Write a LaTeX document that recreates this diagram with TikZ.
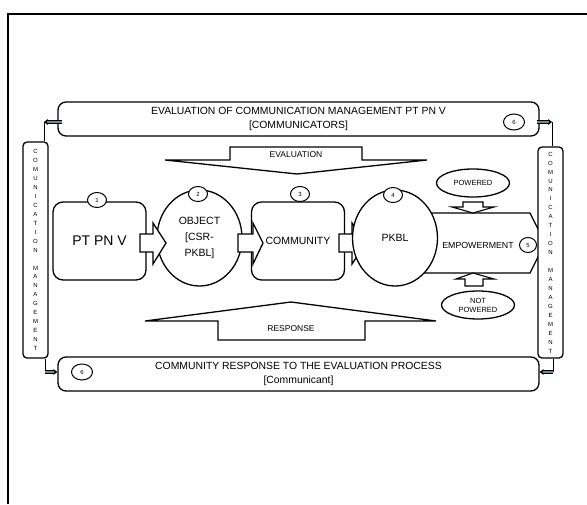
\documentclass[tikz,border=0pt]{standalone}
\usepackage{fontspec}
\setmainfont{Liberation Sans}
\usetikzlibrary{arrows.meta,calc,positioning,shapes.geometric}
\definecolor{barfill}{RGB}{110,140,140}

\begin{document}
\begin{tikzpicture}[x=1pt,y=-1pt,line width=1.3pt,
    box/.style={draw,fill=white,rounded corners=10pt,minimum width=93pt,minimum height=78pt,
        font=\fontsize{10.5}{12}\selectfont},
    oval/.style={draw,fill=white,ellipse,inner sep=0pt,minimum width=85pt,minimum height=96pt,
        align=center,font=\fontsize{10.5}{16}\selectfont},
    num/.style={draw,fill=white,ellipse,line width=1pt,inner sep=0pt,minimum width=19pt,
        minimum height=15pt,font=\fontsize{6}{6}\selectfont},
    banner/.style={draw,fill=white,rounded corners=8pt,minimum width=481pt,minimum height=34pt,
        align=center,font=\fontsize{10.4}{14}\selectfont},
    side/.style={draw,fill=white,rounded corners=4pt,inner sep=0pt,minimum width=25pt,
        align=center,font=\fontsize{6}{8.95}\selectfont},
    small/.style={draw,fill=white,ellipse,inner sep=0pt,minimum width=73pt,minimum height=28pt,
        align=center,font=\fontsize{7.5}{9}\selectfont},
    blk/.style={draw,fill=white,line join=miter},
    bar/.style={double=barfill,double distance=2.4pt,line width=0.8pt},
    lbl/.style={font=\fontsize{8.5}{10}\selectfont}]
    \useasboundingbox (0,0) rectangle (587,504);
    % Frame
    \draw[line width=2pt] (8,504) -- (8,14) -- (587,14);
    % Banners
    \node[banner] (eval) at (298.5,119)
        {EVALUATION OF COMMUNICATION MANAGEMENT PT PN V\\{}[COMMUNICATORS]};
    \node[banner] (resp) at (298.5,374)
        {COMMUNITY RESPONSE TO THE EVALUATION PROCESS\\{}[Communicant]};
    % Evaluation and response arrows
    \draw[blk] (230,147) -- (362,147) -- (362,160) -- (427,160) -- (297,174)
        -- (165,160) -- (230,160) -- cycle;
    \node[lbl] (evaltxt) at (296,155) {EVALUATION};
    \draw[blk] (218,340) -- (365,340) -- (365,321) -- (436,321) -- (291,302)
        -- (145,321) -- (218,321) -- cycle;
    \node[lbl] (resptxt) at (291,329) {RESPONSE};
    % Main row
    \node[box,font=\fontsize{14}{16}\selectfont] (ptpn) at (99.5,241) {PT PN V};
    \node[oval] (object) at (199.5,238) {OBJECT\\{}[CSR-\\PKBL]};
    \node[box] (comm) at (298,241) {COMMUNITY};
    \draw[blk] (140,234) -- (153,234) -- (153,223) -- (166,243) -- (153,264)
        -- (153,252) -- (140,252) -- cycle;
    \draw[blk] (238,234) -- (253,234) -- (253,223) -- (263,243) -- (253,264)
        -- (253,252) -- (238,252) -- cycle;
    \draw[blk] (420,213) -- (530,213) -- (545,243) -- (530,273) -- (420,273) -- cycle;
    \node[font=\fontsize{8.8}{10}\selectfont] (emp) at (478,245) {EMPOWERMENT};
    \draw[blk] (339,234) -- (352,234) -- (352,223) -- (366,243) -- (352,264)
        -- (352,252) -- (339,252) -- cycle;
    \node[oval] (pkbl) at (395,238) {PKBL};
    % Powered / not powered
    \node[small] (pow) at (473,183) {POWERED};
    \node[small] (notpow) at (478,305) {NOT\\POWERED};
    \draw[blk,line width=1.1pt] (463,202) -- (483,202) -- (483,207) -- (494,207) -- (473,213)
        -- (452,207) -- (463,207) -- cycle;
    \draw[blk,line width=1.1pt] (465,286) -- (483,286) -- (483,279) -- (494,279) -- (473,273)
        -- (456,279) -- (465,279) -- cycle;
    % Side boxes
    \node[side,minimum height=216pt] (lside) at (35.5,250)
        {C\\O\\M\\U\\N\\I\\C\\A\\T\\I\\O\\N\\\mbox{}\\M\\A\\N\\A\\G\\E\\M\\E\\N\\T};
    \node[side,minimum height=211pt] (rside) at (550.5,252.5)
        {C\\O\\M\\U\\N\\I\\C\\A\\T\\I\\O\\N\\\mbox{}\\M\\A\\N\\A\\G\\E\\M\\E\\N\\T};
    % Numbers
    \node[num] (n1) at (97,200) {1};
    \node[num] (n2) at (198,194) {2};
    \node[num] (n3) at (300,194) {3};
    \node[num] (n4) at (393,195) {4};
    \node[num,minimum width=17pt] (n5) at (528,245) {5};
    \node[num,minimum width=21pt,minimum height=16pt] (n6a) at (514,122) {6};
    \node[num,minimum width=21pt,minimum height=16pt] (n6b) at (82,372) {6};
    % Connectors
    \coordinate (tl) at (44,122);
    \coordinate (tr) at (552,122);
    \coordinate (bl) at (45,372);
    \coordinate (br) at (553,372);
    \draw[bar,-{Stealth[length=4pt,width=6pt]}] ($(eval.west |- tl)+(5,0)$) -- (tl);
    \draw[line width=0.7pt] (tl) -- (tl |- lside.north);
    \draw[bar,-{Stealth[length=4pt,width=6pt]}] ($(eval.east |- tr)+(-3,0)$) -- (tr);
    \draw[line width=0.7pt] (tr) -- (tr |- rside.north);
    \draw[line width=0.7pt] (lside.south -| bl) -- (bl);
    \draw[bar,-{Stealth[length=4pt,width=6pt]}] (bl) -- (resp.west |- bl);
    \draw[line width=0.7pt] (rside.south -| br) -- (br);
    \draw[bar,-{Stealth[length=4pt,width=6pt]}] (br) -- (resp.east |- br);
\end{tikzpicture}
\end{document}
